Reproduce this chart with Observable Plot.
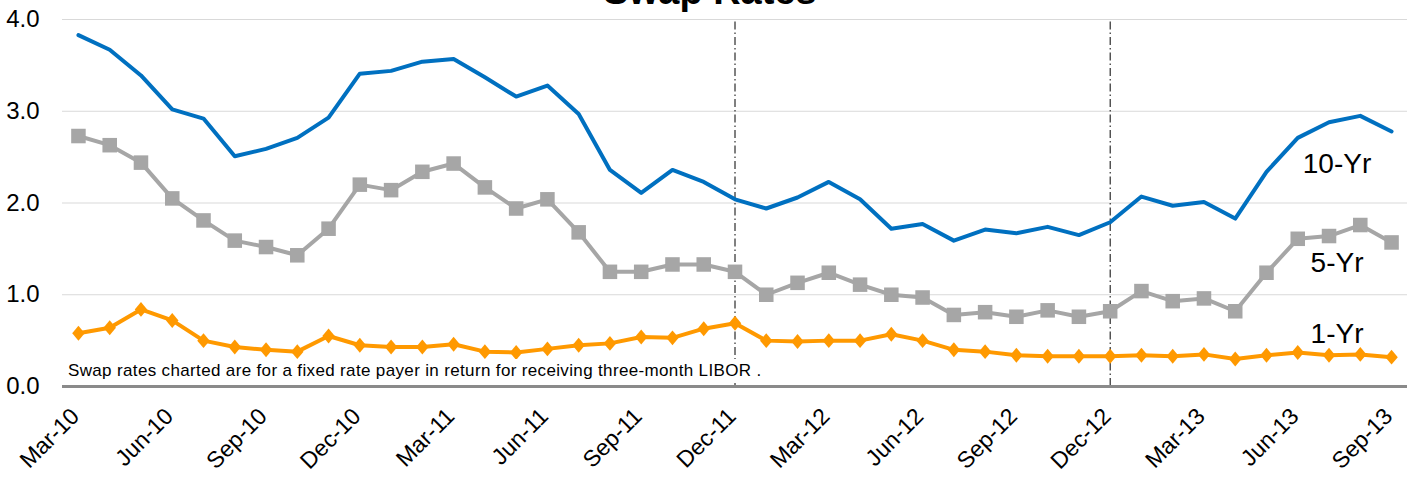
<!DOCTYPE html>
<html>
<head>
<meta charset="utf-8">
<script src="https://cdn.jsdelivr.net/npm/d3@7"></script>
<script src="https://cdn.jsdelivr.net/npm/@observablehq/plot@0.6"></script>
<style>
html, body { margin: 0; padding: 0; background: #fff; overflow: hidden; }
#wrap { position: relative; width: 1414px; height: 479px; font-family: "Liberation Sans", Arial, sans-serif; }
#title { position: absolute; left: 0; width: 1420px; top: -28px; text-align: center; font-size: 38px; font-weight: bold; line-height: 38px; color: #000; z-index: 2; }
#note { position: absolute; left: 66px; top: 359px; font-size: 17px; letter-spacing: 0.35px; line-height: 24px; padding: 0 2px; background: #fff; color: #000; z-index: 2; white-space: nowrap; }
</style>
</head>
<body>
<div id="wrap">
  <div id="chart"></div>
  <div id="title">Swap Rates</div>
  <div id="note">Swap rates charted are for a fixed rate payer in return for receiving three-month LIBOR .</div>
</div>
<script>
const months = ["Mar-10","Apr-10","May-10","Jun-10","Jul-10","Aug-10","Sep-10","Oct-10","Nov-10","Dec-10",
  "Jan-11","Feb-11","Mar-11","Apr-11","May-11","Jun-11","Jul-11","Aug-11","Sep-11","Oct-11","Nov-11","Dec-11",
  "Jan-12","Feb-12","Mar-12","Apr-12","May-12","Jun-12","Jul-12","Aug-12","Sep-12","Oct-12","Nov-12","Dec-12",
  "Jan-13","Feb-13","Mar-13","Apr-13","May-13","Jun-13","Jul-13","Aug-13","Sep-13"];
const tickLabels = ["Mar-10","Jun-10","Sep-10","Dec-10","Mar-11","Jun-11","Sep-11","Dec-11",
  "Mar-12","Jun-12","Sep-12","Dec-12","Mar-13","Jun-13","Sep-13"];
const tenYr = [3.83,3.67,3.39,3.02,2.92,2.51,2.59,2.71,2.93,3.41,3.44,3.54,3.57,3.37,3.16,3.28,2.97,2.36,2.11,2.36,2.23,2.04,
  1.94,2.06,2.23,2.04,1.72,1.77,1.59,1.71,1.67,1.74,1.65,1.79,2.07,1.97,2.01,1.83,2.34,2.71,2.88,2.95,2.78];
const fiveYr = [2.73,2.63,2.44,2.05,1.81,1.59,1.52,1.43,1.72,2.20,2.14,2.34,2.43,2.17,1.94,2.04,1.68,1.25,1.25,1.33,1.33,1.25,
  1.00,1.13,1.24,1.11,1.00,0.97,0.78,0.81,0.76,0.83,0.76,0.82,1.04,0.93,0.96,0.82,1.24,1.61,1.64,1.76,1.57];
const oneYr = [0.58,0.64,0.84,0.72,0.50,0.43,0.40,0.38,0.55,0.45,0.43,0.43,0.46,0.38,0.37,0.41,0.45,0.47,0.54,0.53,0.63,0.69,
  0.50,0.49,0.50,0.50,0.57,0.50,0.40,0.38,0.34,0.33,0.33,0.33,0.34,0.33,0.35,0.30,0.34,0.37,0.34,0.35,0.32];
const dividers = ["Dec-11","Dec-12"];
const seriesNames = ["10-Yr","5-Yr","1-Yr"];
const labelMonth = "Jul-13";
const labelValues = [2.43, 1.35, 0.57];

const rows = months.map((m, i) => ({month: m, ten: tenYr[i], five: fiveYr[i], one: oneYr[i]}));
const labels = seriesNames.map((n, i) => ({name: n, month: labelMonth, value: labelValues[i]}));

const diamond = {
  draw(ctx, size) {
    const s = Math.sqrt(size), a = s * 0.88, b = s * 1.05;
    ctx.moveTo(0, -b); ctx.lineTo(a, 0); ctx.lineTo(0, b); ctx.lineTo(-a, 0); ctx.closePath();
  }
};

const chart = Plot.plot({
  width: 1414,
  height: 479,
  marginTop: 19,
  marginBottom: 93,
  marginLeft: 62,
  marginRight: 7,
  style: {fontFamily: '"Liberation Sans", Arial, sans-serif', background: "#fff", color: "#000"},
  x: {type: "point", domain: months, padding: 0.51, round: false},
  y: {domain: [0, 4]},
  marks: [
    Plot.gridY([1, 2, 3, 4], {stroke: "#d9d9d9", strokeOpacity: 1, strokeWidth: 1}),
    Plot.ruleX(dividers, {x: d => d, y1: 0, y2: 4, stroke: "#000", strokeWidth: 1, strokeDasharray: "8,3,1.5,3"}),
    Plot.ruleY([0], {stroke: "#8a8a8a", strokeWidth: 3}),
    Plot.lineY(rows, {x: "month", y: "ten", stroke: "#0070C0", strokeWidth: 4}),
    Plot.lineY(rows, {x: "month", y: "five", stroke: "#A6A6A6", strokeWidth: 4}),
    Plot.dot(rows, {x: "month", y: "five", symbol: "square", r: 8.2, fill: "#A6A6A6"}),
    Plot.lineY(rows, {x: "month", y: "one", stroke: "#FF9900", strokeWidth: 4}),
    Plot.dot(rows, {x: "month", y: "one", symbol: diamond, r: 4, fill: "#FF9900"}),
    Plot.text(labels, {x: "month", y: "value", text: "name", fontSize: 28, dx: 8, fill: "#000"}),
    Plot.axisY([0, 1, 2, 3, 4], {tickFormat: d3.format(".1f"), tickSize: 0, tickPadding: 23, fontSize: 24, label: null}),
    Plot.axisX(tickLabels, {tickRotate: -45, tickSize: 0, tickPadding: 26, fontSize: 23, label: null, dx: -3})
  ]
});
document.getElementById("chart").appendChild(chart);
</script>
</body>
</html>
